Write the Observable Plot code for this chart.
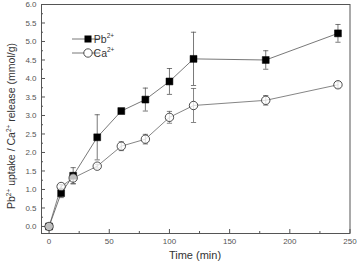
<!DOCTYPE html>
<html><head><meta charset="utf-8">
<script src="https://cdn.jsdelivr.net/npm/d3@7"></script>
<script src="https://cdn.jsdelivr.net/npm/@observablehq/plot@0.6"></script>
<style>body{margin:0;background:#fff;font-family:"Liberation Sans",Arial,sans-serif}</style>
</head><body><div id="chart"></div>
<script>
const time = [0, 10, 20, 40, 60, 80, 100, 120, 180, 240];
const pb = [0, 0.90, 1.37, 2.41, 3.12, 3.43, 3.92, 4.53, 4.50, 5.22];
const pbErr = [0, 0.12, 0.22, 0.61, 0.05, 0.31, 0.35, 0.72, 0.25, 0.24];
const ca = [0, 1.08, 1.31, 1.63, 2.17, 2.36, 2.95, 3.27, 3.41, 3.83];
const caErr = [0, 0.05, 0.15, 0.05, 0.12, 0.13, 0.16, 0.46, 0.13, 0.08];
const xTicks = [0, 50, 100, 150, 200, 250];
const xMinor = [25, 75, 125, 175, 225];
const yTicks = [0, 0.5, 1, 1.5, 2, 2.5, 3, 3.5, 4, 4.5, 5, 5.5, 6];
const yMinor = [0.25, 0.75, 1.25, 1.75, 2.25, 2.75, 3.25, 3.75, 4.25, 4.75, 5.25, 5.75];

const pbData = time.map((t, i) => ({t, v: pb[i], e: pbErr[i]}));
const caData = time.map((t, i) => ({t, v: ca[i], e: caErr[i]}));

const cap = {draw(ctx, size) { const r = 2.6; ctx.moveTo(-r, 0); ctx.lineTo(r, 0); }};

const plot = Plot.plot({
  width: 359, height: 262,
  marginLeft: 41, marginRight: 9.5, marginTop: 4, marginBottom: 29,
  style: {fontFamily: "Liberation Sans, Arial, sans-serif", fontSize: "8px", color: "#333", background: "#fff"},
  x: {domain: [-6.3, 250], label: null},
  y: {domain: [-0.19, 6], label: null},
  marks: [
    Plot.frame({stroke: "#555", strokeWidth: 1}),
    Plot.axisX(xTicks, {tickSize: -4, tickPadding: 9, stroke: "#555", fill: "#555", fontSize: 8}),
    Plot.axisX(xMinor, {tickSize: -2, text: null, stroke: "#555"}),
    Plot.axisY(yTicks, {tickSize: -4, tickPadding: 9, stroke: "#555", fill: "#555", fontSize: 8, tickFormat: d => d.toFixed(1)}),
    Plot.axisY(yMinor, {tickSize: -2, text: null, stroke: "#555"}),
    Plot.line(caData, {x: "t", y: "v", stroke: "#666", strokeWidth: 0.8}),
    Plot.line(pbData, {x: "t", y: "v", stroke: "#555", strokeWidth: 0.8}),
    Plot.ruleX(caData.filter(d => d.e > 0), {x: "t", y1: d => d.v - d.e, y2: d => d.v + d.e, stroke: "#666", strokeWidth: 0.8}),
    Plot.dot(caData.filter(d => d.e > 0), {x: "t", y: d => d.v - d.e, symbol: cap, stroke: "#666", strokeWidth: 0.8, r: 3}),
    Plot.dot(caData.filter(d => d.e > 0), {x: "t", y: d => d.v + d.e, symbol: cap, stroke: "#666", strokeWidth: 0.8, r: 3}),
    Plot.ruleX(pbData.filter(d => d.e > 0), {x: "t", y1: d => d.v - d.e, y2: d => d.v + d.e, stroke: "#555", strokeWidth: 0.8}),
    Plot.dot(pbData.filter(d => d.e > 0), {x: "t", y: d => d.v - d.e, symbol: cap, stroke: "#555", strokeWidth: 0.8, r: 3}),
    Plot.dot(pbData.filter(d => d.e > 0), {x: "t", y: d => d.v + d.e, symbol: cap, stroke: "#555", strokeWidth: 0.8, r: 3}),
    Plot.dot(pbData, {x: "t", y: "v", symbol: "square", r: 3.9, fill: "#000", stroke: "#000", strokeWidth: 0.5}),
    Plot.dot(caData, {x: "t", y: "v", symbol: "circle", r: 4.2, fill: "#fff", fillOpacity: 0.75, stroke: "#222", strokeWidth: 0.8})
  ]
});
document.getElementById("chart").appendChild(plot);

const svg = d3.select(plot);
// Axis titles
svg.append("text").attr("x", 195).attr("y", 259).attr("text-anchor", "middle")
  .attr("font-size", 11).attr("fill", "#333").text("Time (min)");
const yl = svg.append("text").attr("transform", "translate(15,126) rotate(-90)").attr("text-anchor", "middle")
  .attr("font-size", 10.5).attr("fill", "#333");
yl.append("tspan").text("Pb");
yl.append("tspan").attr("dy", -4).attr("font-size", 6.5).text("2+");
yl.append("tspan").attr("dy", 4).text(" uptake / Ca");
yl.append("tspan").attr("dy", -4).attr("font-size", 6.5).text("2+");
yl.append("tspan").attr("dy", 4).text(" release (mmol/g)");

// Legend
const leg = svg.append("g");
const items = [{name: "Pb", y: 39, sq: true}, {name: "Ca", y: 53, sq: false}];
items.forEach(it => {
  leg.append("line").attr("x1", 72).attr("x2", 100).attr("y1", it.y).attr("y2", it.y).attr("stroke", "#555").attr("stroke-width", 0.8);
  if (it.sq) leg.append("rect").attr("x", 84.5).attr("y", it.y - 3.5).attr("width", 7).attr("height", 7).attr("fill", "#000");
  else leg.append("circle").attr("cx", 88).attr("cy", it.y).attr("r", 4.2).attr("fill", "#fff").attr("stroke", "#222").attr("stroke-width", 0.8);
  const t = leg.append("text").attr("x", 104).attr("y", it.y + 4).attr("font-size", 10.5).attr("fill", "#333");
  t.append("tspan").text(it.name);
  t.append("tspan").attr("dy", -5).attr("font-size", 6.5).text("2+");
});
</script></body></html>
